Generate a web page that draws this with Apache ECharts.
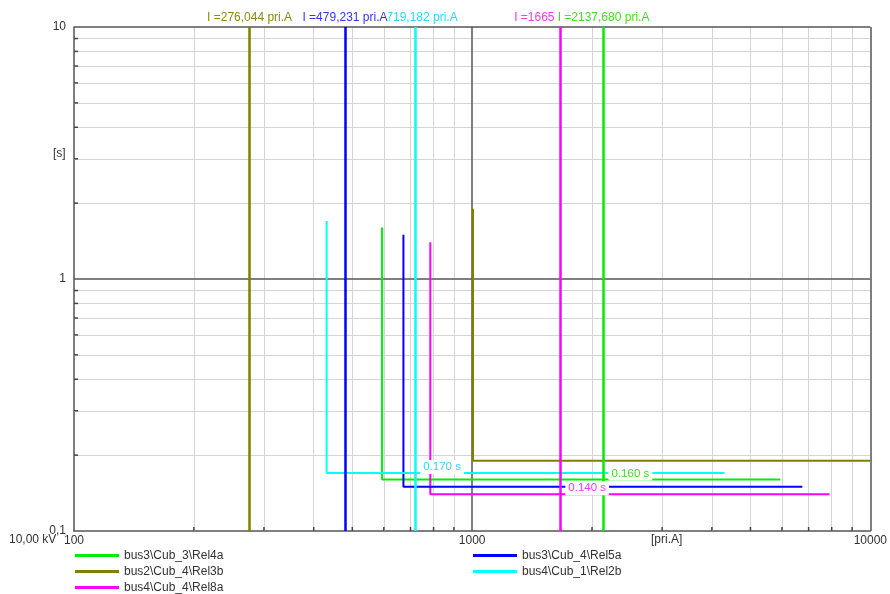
<!DOCTYPE html>
<html>
<head>
<meta charset="utf-8">
<script src="https://cdn.jsdelivr.net/npm/echarts@6/dist/echarts.min.js"></script>
<style>html,body{margin:0;padding:0;background:#fff;}#c{width:890px;height:594px;}</style>
</head>
<body>
<div id="c"></div>
<script>
// ---- data ----
const relayNames = ['bus3\\Cub_3\\Rel4a', 'bus2\\Cub_4\\Rel3b', 'bus4\\Cub_4\\Rel8a', 'bus3\\Cub_4\\Rel5a', 'bus4\\Cub_1\\Rel2b'];
const relayColors = ['#00ee00', '#808000', '#ff00ff', '#0000ff', '#00ffff'];
const labelColors = ['#44dd22', '#8a8a10', '#ff33ff', '#3333ff', '#22ddff'];
// step curves: [current pri.A, time s]
const curveRel4a = [[594, 1.6], [594, 0.16], [5940, 0.16]];
const curveRel3b = [[1005, 1.9], [1005, 0.19], [10000, 0.19]];
const curveRel8a = [[785, 1.4], [785, 0.14], [7900, 0.14]];
const curveRel5a = [[672, 1.5], [672, 0.15], [6750, 0.15]];
const curveRel2b = [[431, 1.7], [431, 0.17], [4305, 0.17]];
const curves = [curveRel4a, curveRel3b, curveRel8a, curveRel5a, curveRel2b];
// fault current markers
const faultCurrents = [2137.68, 276.044, 1665, 479.231, 719.182];
const faultLabels = ['I =2137,680 pri.A', 'I =276,044 pri.A', 'I =1665 pri.A', 'I =479,231 pri.A', 'I =719,182 pri.A'];
// tripping time labels (null = none shown)
const tripTimes = [0.16, null, 0.14, null, 0.17];
const tripLabels = ['0.160 s', null, '0.140 s', null, '0.170 s'];
// axis ticks / grid
const xTickLabels = ['100', '1000', '10000'];
const yTickLabels = ['0,1', '1', '10'];
const xMinorGrid = [200, 300, 400, 500, 600, 700, 800, 900, 2000, 3000, 4000, 5000, 6000, 7000, 8000, 9000];
const yMinorGrid = [0.2, 0.3, 0.4, 0.5, 0.6, 0.7, 0.8, 0.9, 2, 3, 4, 5, 6, 7, 8, 9];
const xMajorGrid = [1000, 10000];
const yMajorGrid = [1, 10];

const FONT = 'Liberation Sans, Arial, sans-serif';
const chart = echarts.init(document.getElementById('c'));
const mlZ = [6, 5, 5, 6, 5];
const faultLabelShift = [0, 0, -12, 0, 0];

const series = [];
series.push({
  name: '_minor', type: 'line', data: [], silent: true, z: 1,
  markLine: {
    silent: true, symbol: ['none', 'none'], z: 1, animation: false,
    label: {show: false},
    lineStyle: {color: '#d4d4d4', width: 1, type: 'solid'},
    emphasis: {disabled: true},
    data: xMinorGrid.map(v => ({xAxis: v})).concat(yMinorGrid.map(v => ({yAxis: v})))
  }
});
series.push({
  name: '_major', type: 'line', data: [], silent: true, z: 1,
  markLine: {
    silent: true, symbol: ['none', 'none'], z: 2, animation: false,
    label: {show: false},
    lineStyle: {color: '#555', width: 1.5, type: 'solid'},
    emphasis: {disabled: true},
    data: xMajorGrid.map(v => ({xAxis: v})).concat(yMajorGrid.map(v => ({yAxis: v})))
  }
});
// short inner ticks at minor grid values
const tickData = xMinorGrid.map(v => ['x', v]).concat(yMinorGrid.map(v => ['y', v]));
series.push({
  name: '_ticks', type: 'custom', silent: true, z: 4, animation: false,
  data: tickData.map((d, i) => [i]),
  renderItem: function (params, api) {
    const d = tickData[params.dataIndex];
    const cs = params.coordSys;
    if (d[0] === 'x') {
      const p = api.coord([d[1], 0.1]);
      return {type: 'line', shape: {x1: p[0], y1: cs.y + cs.height, x2: p[0], y2: cs.y + cs.height - 4},
        style: {stroke: '#444', lineWidth: 1.5}};
    }
    const p = api.coord([100, d[1]]);
    return {type: 'line', shape: {x1: cs.x, y1: p[1], x2: cs.x + 4, y2: p[1]},
      style: {stroke: '#444', lineWidth: 1.5}};
  }
});
relayNames.forEach((name, i) => {
  const s = {
    name: name, type: 'line', data: curves[i], showSymbol: false, symbol: 'none',
    z: 3, animation: false,
    lineStyle: {color: relayColors[i], width: 2},
    itemStyle: {color: relayColors[i]},
    markLine: {
      silent: true, symbol: ['none', 'none'], z: mlZ[i], animation: false,
      lineStyle: {color: relayColors[i], width: 2.5, type: 'solid'},
      label: {
        show: true, position: 'end', distance: 3, offset: [faultLabelShift[i], 0],
        formatter: faultLabels[i], color: labelColors[i], fontSize: 12, fontFamily: FONT,
        backgroundColor: '#fff', padding: [0, 1]
      },
      emphasis: {disabled: true},
      data: [{xAxis: faultCurrents[i]}]
    }
  };
  if (tripTimes[i] !== null) {
    s.markPoint = {
      silent: true, symbol: 'circle', symbolSize: 0, z: 8, animation: false,
      label: {
        show: true, position: 'right', distance: 5, offset: [0, -6],
        formatter: tripLabels[i], color: labelColors[i], fontSize: 11.5, fontFamily: FONT,
        backgroundColor: '#fff', padding: [1, 3]
      },
      data: [{coord: [faultCurrents[i], tripTimes[i]]}]
    };
  }
  series.push(s);
});

const legendText = {color: '#333', fontSize: 12, fontFamily: FONT, lineHeight: 13};
chart.setOption({
  animation: false,
  backgroundColor: '#fff',
  grid: {left: 74, right: 18, top: 27, bottom: 63, containLabel: false},
  xAxis: {
    type: 'log', logBase: 10, min: 100, max: 10000,
    axisLine: {show: true, lineStyle: {color: '#555', width: 1.5}},
    axisTick: {show: false},
    splitLine: {show: false},
    axisLabel: {
      show: true, color: '#333', fontSize: 12, fontFamily: FONT, margin: 4,
      formatter: v => { const k = Math.round(Math.log10(v)) - 2; return xTickLabels[k] || ''; }
    }
  },
  yAxis: {
    type: 'log', logBase: 10, min: 0.1, max: 10,
    axisLine: {show: true, lineStyle: {color: '#555', width: 1.5}},
    axisTick: {show: false},
    splitLine: {show: false},
    axisLabel: {
      show: true, color: '#333', fontSize: 12, fontFamily: FONT, margin: 8,
      formatter: v => { const k = Math.round(Math.log10(v)) + 1; return yTickLabels[k] || ''; }
    }
  },
  legend: [
    {
      data: relayNames.slice(0, 3), orient: 'vertical', left: 75, top: 549, padding: 0, height: 45,
      itemWidth: 44, itemHeight: 3, itemGap: 3, icon: 'rect', selectedMode: false,
      textStyle: legendText
    },
    {
      data: relayNames.slice(3), orient: 'vertical', left: 473, top: 549, padding: 0, height: 45,
      itemWidth: 44, itemHeight: 3, itemGap: 3, icon: 'rect', selectedMode: false,
      textStyle: legendText
    }
  ],
  graphic: [
    {type: 'text', left: 53, top: 148, style: {text: '[s]', fill: '#333', font: '12px ' + FONT}},
    {type: 'text', left: 9, top: 534, style: {text: '10,00 kV', fill: '#333', font: '12px ' + FONT}},
    {type: 'text', left: 651, top: 534, style: {text: '[pri.A]', fill: '#333', font: '12px ' + FONT}}
  ],
  series: series
});
</script>
</body>
</html>
